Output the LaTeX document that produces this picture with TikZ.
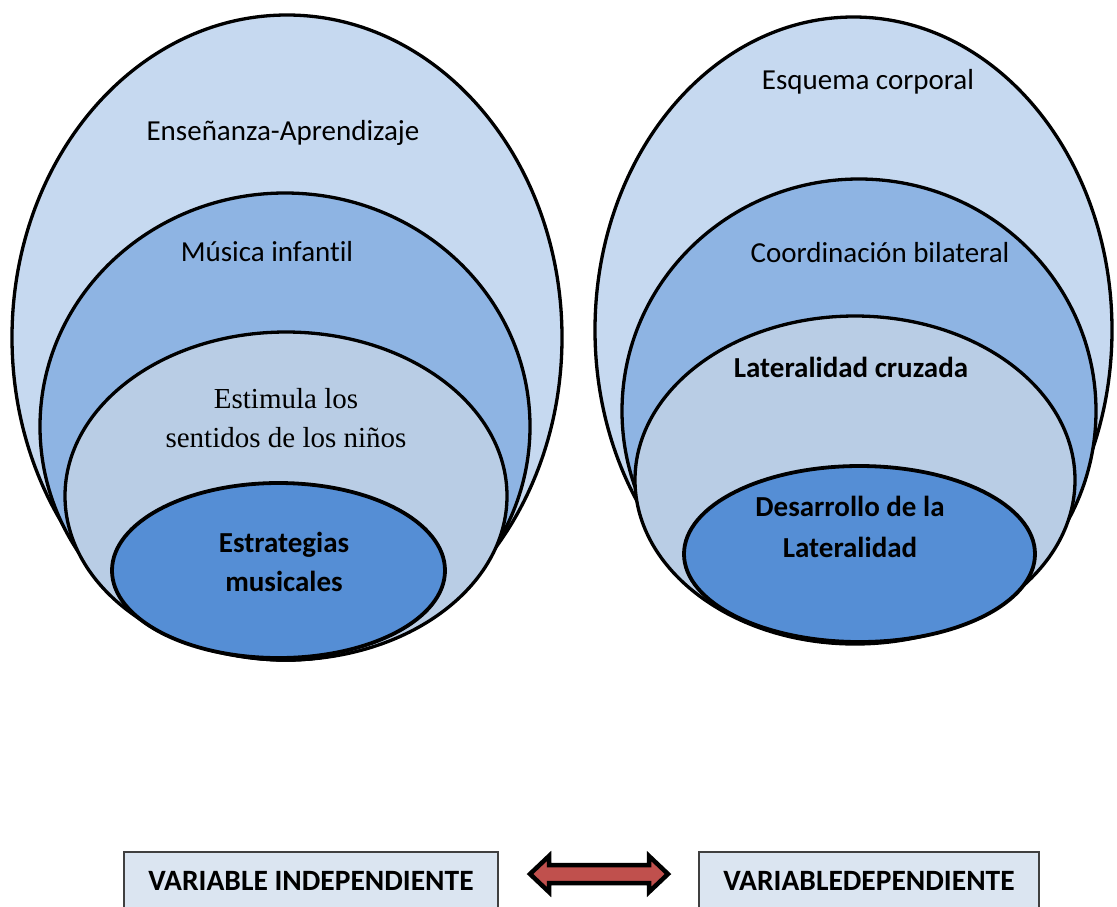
\documentclass[tikz,border=0pt]{standalone}
\usepackage{fontspec}
\setmainfont{Carlito}[Ligatures=NoCommon]
\newfontfamily\tnr{Liberation Serif}
\usetikzlibrary{shapes.geometric}
\definecolor{cA}{RGB}{198,217,240}
\definecolor{cB}{RGB}{142,180,227}
\definecolor{cC}{RGB}{185,205,229}
\definecolor{cD}{RGB}{85,142,213}
\definecolor{boxfill}{RGB}{219,229,241}
\definecolor{boxline}{RGB}{64,64,64}
\definecolor{arrred}{RGB}{192,80,77}
\begin{document}
\begin{tikzpicture}[x=1pt,y=-1pt,
  ell/.style={ellipse,draw=black,line width=3.3pt,inner sep=0pt,outer sep=0pt},
  lbl/.style={font=\fontsize{29}{40}\selectfont,align=center,inner sep=0pt,text=black},
  varbox/.style={rectangle,draw=boxline,line width=1.2pt,fill=boxfill,inner sep=0pt,
    minimum height=58pt,font=\fontsize{29.5}{40}\selectfont\bfseries}]
\useasboundingbox[fill=white] (0,0) rectangle (1117,906);
% left set
\node[ell,fill=cA,minimum width=550pt,minimum height=645pt] (L1) at (287,337.5) {};
\node[ell,fill=cB,minimum width=490pt,minimum height=467pt] (L2) at (285,426.5) {};
\node[ell,fill=cC,minimum width=442pt,minimum height=328pt] (L3) at (286,496) {};
\node[ell,fill=cD,minimum width=333pt,minimum height=175pt,line width=3.8pt] (L4) at (278.5,570.5) {};
\node[lbl] (t1) at (283,133) {Enseñanza-Aprendizaje};
\node[lbl] (t2) at (267,252) {Música infantil};
\node[lbl,font=\fontsize{29}{39}\selectfont\tnr] (t3) at (286,418) {Estimula los\\sentidos de los niños};
\node[lbl,font=\fontsize{29}{39}\selectfont\bfseries] (t4) at (284,562) {Estrategias\\musicales};
% right set
\node[ell,fill=cA,minimum width=517pt,minimum height=626pt] (R1) at (853.5,330) {};
\node[ell,fill=cB,minimum width=474pt,minimum height=464pt] (R2) at (859,411) {};
\node[ell,fill=cC,minimum width=440pt,minimum height=328pt] (R3) at (855,480) {};
\node[ell,fill=cD,minimum width=351pt,minimum height=176pt,line width=3.8pt] (R4) at (859.5,554) {};
\node[lbl] (t5) at (868,82) {Esquema corporal};
\node[lbl] (t6) at (880,253) {Coordinación bilateral};
\node[lbl,font=\fontsize{29}{40}\selectfont\bfseries] (t7) at (851,367) {Lateralidad cruzada};
\node[lbl,font=\fontsize{29}{41}\selectfont\bfseries] (t8) at (850,527) {Desarrollo de la\\Lateralidad};
% bottom
\node[varbox,minimum width=374pt] (vi) at (311,881) {VARIABLE INDEPENDIENTE};
\node[varbox,minimum width=340pt] (vd) at (869,881) {VARIABLEDEPENDIENTE};
\coordinate (aL) at (530,874);
\coordinate (aR) at (668,874);
\draw[line width=4.5pt,line join=miter,fill=arrred]
  (aL) -- (549,856) -- (549,865) -- (649,865) -- (649,856) -- (aR)
  -- (649,892) -- (649,883) -- (549,883) -- (549,892) -- cycle;
\end{tikzpicture}
\end{document}
